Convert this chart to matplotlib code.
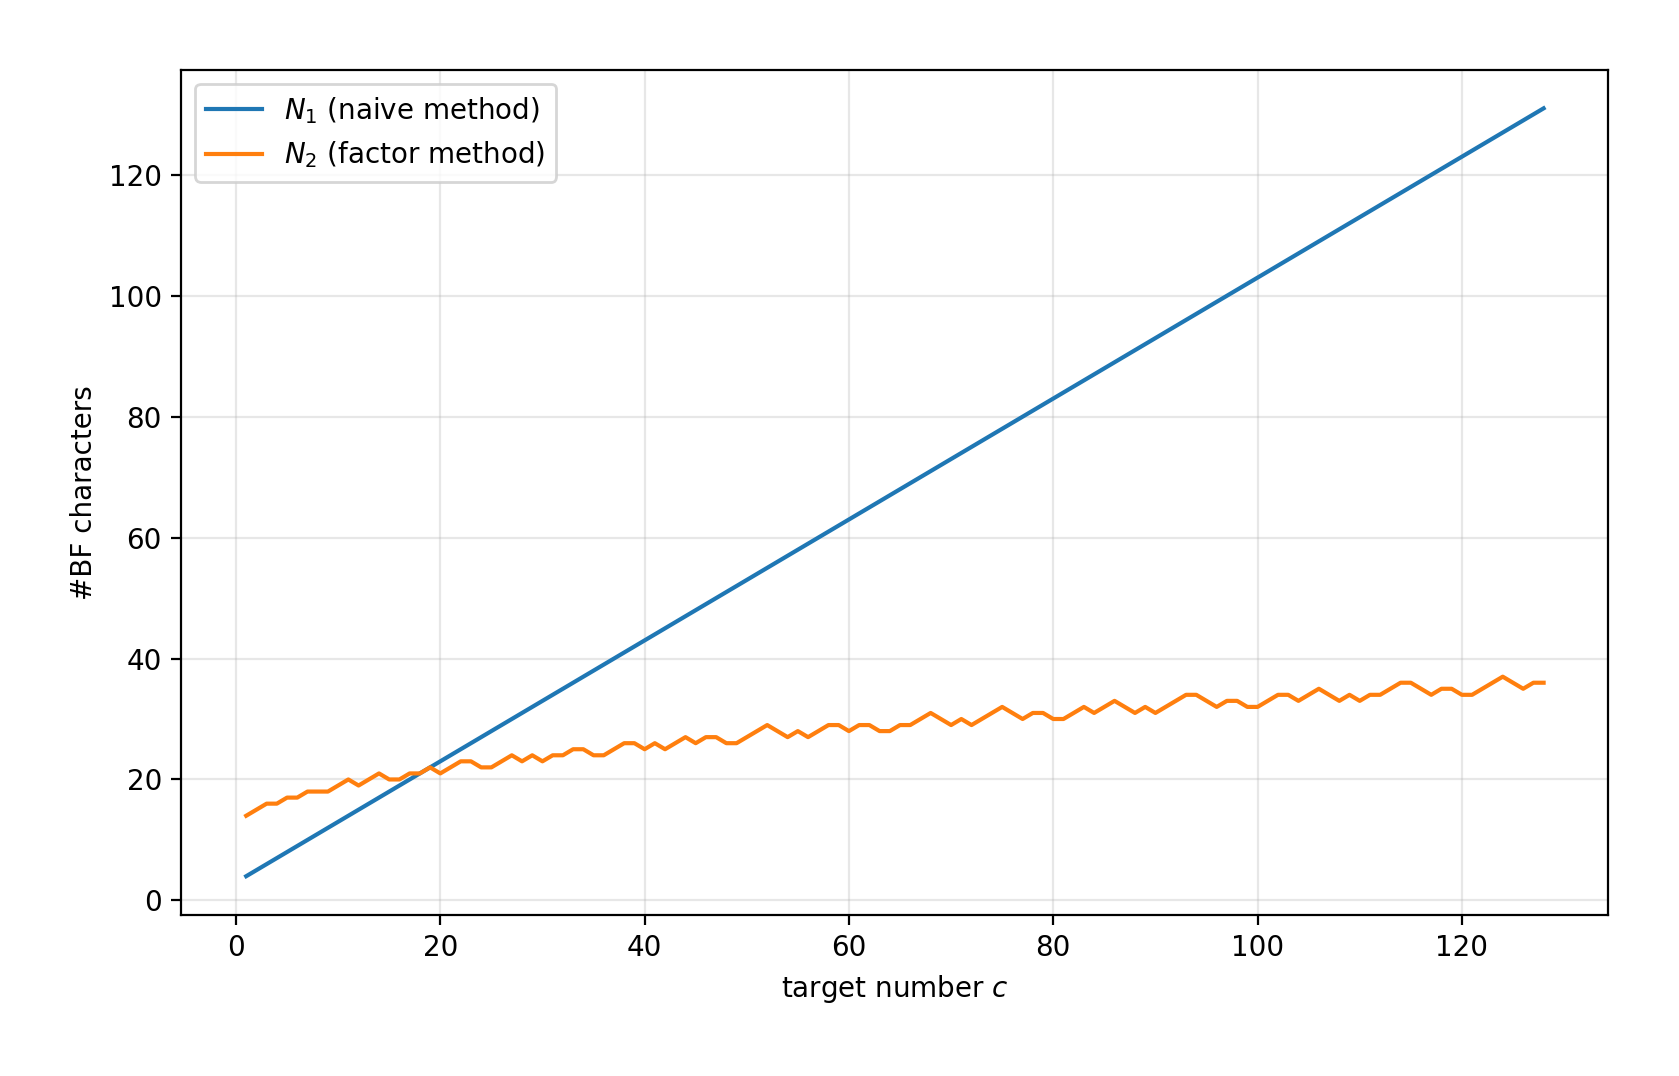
import matplotlib
matplotlib.use("Agg")
import matplotlib.pyplot as plt
import numpy as np

c = np.arange(1, 129)
n1 = c + 3
n2 = [14, 15, 16, 16, 17, 17, 18, 18, 18, 19,
      20, 19, 20, 21, 20, 20, 21, 21, 22, 21,
      22, 23, 23, 22, 22, 23, 24, 23, 24, 23,
      24, 24, 25, 25, 24, 24, 25, 26, 26, 25,
      26, 25, 26, 27, 26, 27, 27, 26, 26, 27,
      28, 29, 28, 27, 28, 27, 28, 29, 29, 28,
      29, 29, 28, 28, 29, 29, 30, 31, 30, 29,
      30, 29, 30, 31, 32, 31, 30, 31, 31, 30,
      30, 31, 32, 31, 32, 33, 32, 31, 32, 31,
      32, 33, 34, 34, 33, 32, 33, 33, 32, 32,
      33, 34, 34, 33, 34, 35, 34, 33, 34, 33,
      34, 34, 35, 36, 36, 35, 34, 35, 35, 34,
      34, 35, 36, 37, 36, 35, 36, 36]

fig = plt.figure(figsize=(8.395, 5.38), dpi=200)
ax = fig.add_axes([0.108, 0.150, 0.850, 0.785])
ax.plot(c, n1, label=r"$N_1$ (naive method)")
ax.plot(c, n2, label=r"$N_2$ (factor method)")
ax.set_xlabel(r"target number $c$")
ax.set_ylabel("#BF characters")
ax.grid(True, alpha=0.3)
ax.legend(loc="upper left")
fig.savefig("out.png", dpi=200)
